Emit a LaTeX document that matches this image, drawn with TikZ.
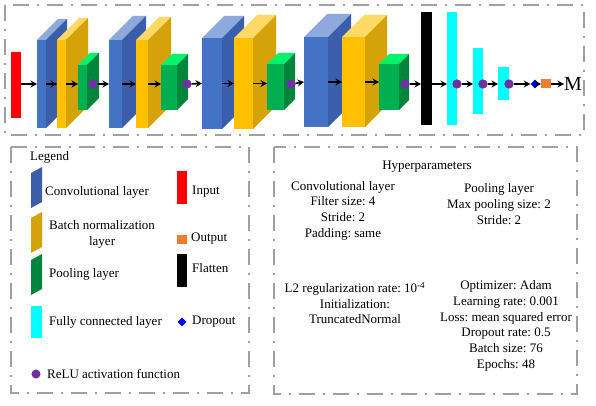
\documentclass[tikz,border=0pt]{standalone}
\usepackage{fontspec}
\setmainfont{Liberation Serif}
\usetikzlibrary{positioning,arrows.meta,shapes.geometric}
\frenchspacing

\definecolor{convfront}{HTML}{4472C4}
\definecolor{convtop}{HTML}{8EA9DB}
\definecolor{convside}{HTML}{3B5EAB}
\definecolor{bnfront}{HTML}{FFC000}
\definecolor{bntop}{HTML}{FFD966}
\definecolor{bnside}{HTML}{D6A20A}
\definecolor{poolfront}{HTML}{00B050}
\definecolor{pooltop}{HTML}{00F36B}
\definecolor{poolside}{HTML}{00853C}
\definecolor{fccol}{HTML}{00FFFF}
\definecolor{incol}{HTML}{FF0000}
\definecolor{relucol}{HTML}{7030A0}
\definecolor{outcol}{HTML}{ED7D31}
\definecolor{dropcol}{HTML}{0000FF}
\definecolor{framegray}{HTML}{A0A0A0}

% name, left, top, width, height, depth, colour set
\newcommand{\cnnlayer}[7]{%
  \fill[#7top] (#2,#3) -- ++(#6,-#6) -- ++(#4,0) -- ++(-#6,#6) -- cycle;
  \fill[#7side] (#2+#4,#3) -- ++(#6,-#6) -- ++(0,#5) -- ++(-#6,#6) -- cycle;
  \node[front, fill=#7front, minimum width=#4pt, minimum height=#5pt] (#1) at (#2+#4/2,#3+#5/2) {};
}

\begin{document}
\begin{tikzpicture}[x=1pt,y=-1pt,>={Stealth[length=6.5pt,width=7pt]},
  front/.style={rectangle,inner sep=0pt,outer sep=0pt},
  bar/.style={front,anchor=north west},
  flow/.style={->,line width=1.6pt},
  relu/.style={circle,fill=relucol,inner sep=0pt,minimum size=9pt},
  drop/.style={diamond,fill=dropcol,inner sep=0pt,minimum size=9pt},
  txt/.style={font=\fontsize{13}{15.7}\selectfont,inner sep=0pt,align=center},
  frame/.style={draw=framegray,line width=1.3pt,dash pattern=on 16pt off 8pt on 2pt off 8pt}]

\useasboundingbox (0,0) rectangle (596,406);

% network
\draw[frame] (5,5) rectangle (584,135);

\node[bar,fill=incol,minimum width=10pt,minimum height=66pt] (input) at (11,52) {};

\cnnlayer{conv1}{37}{40}{9}{88}{21}{conv}
\cnnlayer{bn1}{57}{40}{9}{88}{22}{bn}
\cnnlayer{pool1}{78}{65}{9}{45}{12}{pool}

\cnnlayer{conv2}{109}{40}{13}{88}{24}{conv}
\cnnlayer{bn2}{136}{40}{12}{88}{23}{bn}
\cnnlayer{pool2}{161}{65}{16}{45}{11}{pool}

\cnnlayer{conv3}{202}{38}{20}{91}{22}{conv}
\cnnlayer{bn3}{234}{38}{19}{91}{23}{bn}
\cnnlayer{pool3}{267}{64}{17}{46}{11}{pool}

\cnnlayer{conv4}{304}{37}{24}{90}{23}{conv}
\cnnlayer{bn4}{342}{37}{23}{90}{22}{bn}
\cnnlayer{pool4}{379}{64}{20}{46}{10}{pool}

\node[bar,fill=black,minimum width=11pt,minimum height=113pt] (flatten) at (421,12) {};
\node[bar,fill=fccol,minimum width=10pt,minimum height=113pt] (fc1) at (447,12) {};
\node[bar,fill=fccol,minimum width=10pt,minimum height=66pt] (fc2) at (473,48) {};
\node[bar,fill=fccol,minimum width=11pt,minimum height=33pt] (fc3) at (498,67) {};

\node[relu] (relu1) at (93,84) {};
\node[relu] (relu2) at (187,84) {};
\node[relu] (relu3) at (291,84) {};
\node[relu] (relu4) at (405,84) {};
\node[relu] (relu5) at (457,84) {};
\node[relu] (relu6) at (483,84) {};
\node[relu] (relu7) at (509,84) {};
\node[drop] (dropout) at (535,84) {};
\node[front,fill=outcol,minimum width=10pt,minimum height=9pt] (output) at (546,84) {};
\node[inner sep=0pt,anchor=west,font=\fontsize{20}{20}\selectfont] (M) at (564,84) {M};

\path[flow] (input.east |- 0,84) edge (conv1.west |- 0,84)
  (conv1.east) edge (bn1.west)
  (bn1.east) edge (bn1.east -| pool1.west)
  (relu1) edge (conv2.west)
  (conv2.east) edge (bn2.west)
  (bn2.east) edge (bn2.east -| pool2.west)
  (relu2) edge (conv3.west)
  (conv3.east) edge (bn3.west)
  (bn3.east) edge (bn3.east -| pool3.west)
  (relu3) edge (conv4.west)
  (conv4.east) edge (bn4.west)
  (bn4.east) edge (bn4.east -| pool4.west)
  (relu4) edge (flatten.west |- 0,84)
  (flatten.east |- 0,84) edge (fc1.west |- 0,84)
  (relu5) edge (fc2.west |- 0,84)
  (relu6) edge (fc3.west |- 0,84)
  (relu7) edge (dropout)
  (dropout) edge (output)
  (output) edge (M);

\foreach \r in {relu1,relu2,relu3,relu4,relu5,relu6,relu7}
  \node[relu] at (\r) {};

% legend
\draw[frame] (11,147) rectangle (249,393);
\node[txt,anchor=west] (legend) at (30,157) {Legend};

\fill[convside] (31,208) -- (31,173) -- (42,167) -- (42,202) -- cycle;
\fill[bnside] (31,253) -- (31,218) -- (42,212) -- (42,247) -- cycle;
\fill[poolside] (31,295) -- (31,260) -- (42,254) -- (42,289) -- cycle;
\node[bar,fill=fccol,minimum width=11pt,minimum height=32pt] (keyfc) at (31,306) {};
\node[relu] (keyrelu) at (36,374) {};

\node[txt,anchor=west] (tconv) at (45,192) {Convolutional layer};
\node[txt,anchor=west] (tbn) at (49,234.5) {Batch normalization\\layer};
\node[txt,anchor=west] (tpool) at (49,274) {Pooling layer};
\node[txt,anchor=west] (tfc) at (49,322) {Fully connected layer};
\node[txt,anchor=west] (trelu) at (47,374) {ReLU activation function};

\node[bar,fill=incol,minimum width=10pt,minimum height=33pt] (keyin) at (177,171) {};
\node[front,fill=outcol,minimum width=10pt,minimum height=9pt] (keyout) at (182,239) {};
\node[bar,fill=black,minimum width=10pt,minimum height=33pt] (keyflat) at (177,254) {};
\node[drop] (keydrop) at (182,322) {};

\node[txt,anchor=west] (tin) at (192,192) {Input};
\node[txt,anchor=west] (tout) at (191,239) {Output};
\node[txt,anchor=west] (tflat) at (192,268) {Flatten};
\node[txt,anchor=west] (tdrop) at (192,322) {Dropout};

% hyperparameters
\draw[frame] (274,147) rectangle (577,394);
\node[txt] (hyper) at (427,167) {Hyperparameters};
\node[txt] (hpconv) at (343,210.5) {Convolutional layer\\Filter size: 4\\Stride: 2\\Padding: same};
\node[txt] (hppool) at (499,204) {Pooling layer\\Max pooling size: 2\\Stride: 2};
\node[txt] (hpinit) at (355,303) {L2 regularization rate: 10\textsuperscript{-4}\\Initialization:\\TruncatedNormal};
\node[txt] (hptrain) at (506,326) {Optimizer: Adam\\Learning rate: 0.001\\Loss: mean squared error\\Dropout rate: 0.5\\Batch size: 76\\Epochs: 48};

\end{tikzpicture}
\end{document}
